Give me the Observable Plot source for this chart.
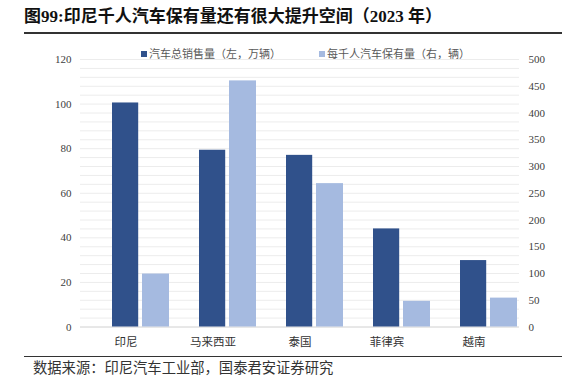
<!DOCTYPE html>
<html>
<head>
<meta charset="utf-8">
<script src="https://cdn.jsdelivr.net/npm/d3@7"></script>
<script src="https://cdn.jsdelivr.net/npm/@observablehq/plot@0.6"></script>
<style>
  html, body { margin: 0; padding: 0; background: #fff; }
  #wrap { position: relative; width: 581px; height: 389px; overflow: hidden; font-family: "Noto Sans CJK SC", sans-serif; }
  #wrap svg { position: absolute; left: 0; top: 0; }
  .title { position: absolute; left: 24px; top: 7px; font-size: 17px; line-height: 20px; font-weight: bold; color: #111; font-family: "Liberation Serif", "Noto Sans CJK SC", serif; white-space: nowrap; }
  .hr { position: absolute; left: 24px; width: 538px; height: 1.5px; background: #333; }
  .legend { position: absolute; top: 45px; font-size: 11px; line-height: 16px; color: #595959; white-space: nowrap; }
  .legend i { display: inline-block; width: 6px; height: 6px; margin-right: 2px; vertical-align: 1px; }
  .caption { position: absolute; left: 33px; top: 358px; font-size: 14.3px; line-height: 18px; color: #333; white-space: nowrap; }
</style>
</head>
<body>
<div id="wrap">
  <div class="title">图99:印尼千人汽车保有量还有很大提升空间（2023 年）</div>
  <div class="hr" style="top:32px"></div>
  <div class="hr" style="top:355.5px"></div>
  <div class="caption">数据来源：印尼汽车工业部，国泰君安证券研究</div>
</div>
<script>
const categories = ["印尼", "马来西亚", "泰国", "菲律宾", "越南"];
const salesTotal = [100.5, 79.3, 77, 44, 29.8];           // 汽车总销售量（左，万辆）
const perThousand = [99, 460, 268, 48, 54];               // 每千人汽车保有量（右，辆）
const leftTicks = [0, 20, 40, 60, 80, 100, 120];
const rightTicks = [0, 50, 100, 150, 200, 250, 300, 350, 400, 450, 500];
const gridTicks = [0,4,8,12,16,20,24,28,32,36,40,44,48,52,56,60,64,68,72,76,80,84,88,92,96,100,104,108,112,116,120];
const seriesNames = ["汽车总销售量（左，万辆）", "每千人汽车保有量（右，辆）"];
const colors = ["#30518b", "#a5bae0"];

const leftMax = 120, rightMax = 500;
const k = leftMax / rightMax;
const data = categories.map((c, i) => ({cat: c, sales: salesTotal[i], stock: perThousand[i]}));

const numFont = {fontFamily: "Liberation Serif, serif", fontSize: 11, fill: "#404040"};

const chart = Plot.plot({
  width: 581,
  height: 389,
  marginTop: 59,
  marginBottom: 62.5,
  marginLeft: 80,
  marginRight: 62,
  style: {background: "transparent", overflow: "visible"},
  x: {domain: categories, padding: 0, axis: null, label: null},
  y: {domain: [0, leftMax], axis: null, label: null},
  marks: [
    Plot.gridY(gridTicks, {stroke: "#ececec", strokeOpacity: 1, strokeWidth: 1}),
    Plot.ruleY([0], {stroke: "#d9d9d9", strokeWidth: 1.2}),
    Plot.barY(data, {x: "cat", y: "sales", fill: colors[0], insetLeft: 30, insetRight: 30.8}),
    Plot.barY(data, {x: "cat", y: d => d.stock * k, fill: colors[1], insetLeft: 60, insetRight: 0}),
    Plot.axisY({ticks: leftTicks, anchor: "left", tickSize: 0, tickPadding: 9, label: null, ...numFont}),
    Plot.axisY({ticks: rightTicks.map(v => v * k), anchor: "right", tickSize: 0, tickPadding: 9, label: null,
      tickFormat: d => String(Math.round(d / k)), ...numFont}),
    Plot.axisX({tickSize: 0, tickPadding: 11, label: null, fontFamily: "Noto Sans CJK SC, sans-serif", fontSize: 11.5, fill: "#333"})
  ]
});
const wrap = document.getElementById("wrap");
wrap.insertBefore(chart, wrap.firstChild);

const legendPos = [141, 319];
seriesNames.forEach((name, i) => {
  const el = document.createElement("div");
  el.className = "legend";
  el.style.left = legendPos[i] + "px";
  el.innerHTML = `<i style="background:${colors[i]}"></i>${name}`;
  wrap.appendChild(el);
});
</script>
</body>
</html>
